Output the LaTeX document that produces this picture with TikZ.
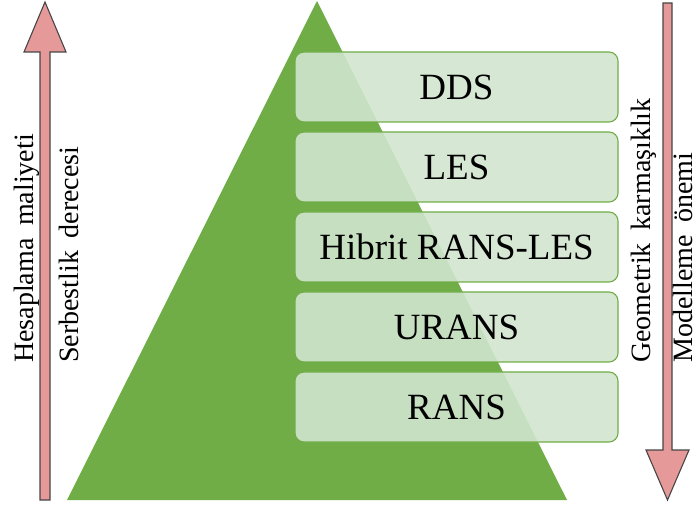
\documentclass[tikz,border=0pt]{standalone}
\usepackage{fontspec}
\setmainfont{Liberation Serif}
\definecolor{pyrgreen}{RGB}{112,173,71}
\definecolor{boxfill}{RGB}{209,229,207}
\definecolor{arrowpink}{RGB}{230,153,153}
\definecolor{arrowedge}{RGB}{70,70,70}
\tikzset{
  level/.style={draw=pyrgreen, line width=1.1pt, fill=boxfill, fill opacity=0.9,
    text opacity=1, rounded corners=9pt, minimum width=323pt, minimum height=70pt,
    inner sep=0pt, font=\fontsize{37}{40}\selectfont},
  sidelabel/.style={rotate=90, anchor=base west, inner sep=0pt,
    font=\fontsize{28}{30}\selectfont},
  bigarrow/.style={fill=arrowpink, draw=arrowedge, line width=1.1pt, line join=miter}
}
\newcommand{\gap}{\hspace{0.45em}}
\begin{document}
\begin{tikzpicture}[x=1pt, y=1pt]
  \useasboundingbox (0,0) rectangle (700,508);

  % pyramid
  \fill[pyrgreen] (67,8) -- (317,507) -- (567,8) -- cycle;

  % levels of the pyramid
  \node[level] (dds)    at (456.5,421) {DDS};
  \node[level] (les)    at (456.5,341) {LES};
  \node[level] (hybrid) at (456.5,261) {Hibrit RANS-LES};
  \node[level] (urans)  at (456.5,181) {URANS};
  \node[level] (rans)   at (456.5,101) {RANS};

  % upward arrow on the left
  \draw[bigarrow] (40,8) -- (50,8) -- (50,456) -- (66,456) -- (45,506)
    -- (24,456) -- (40,456) -- cycle;
  % downward arrow on the right
  \draw[bigarrow] (663,505) -- (672,505) -- (672,58) -- (689,58) -- (667.5,8)
    -- (646,58) -- (663,58) -- cycle;

  % axis labels
  \node[sidelabel] (cost)  at (33,145)  {Hesaplama\gap maliyeti};
  \node[sidelabel] (dof)   at (78,145)  {Serbestlik\gap derecesi};
  \node[sidelabel] (geom)  at (650,145) {Geometrik\gap karmaşıklık};
  \node[sidelabel] (model) at (692,145) {Modelleme\gap önemi};
\end{tikzpicture}
\end{document}
